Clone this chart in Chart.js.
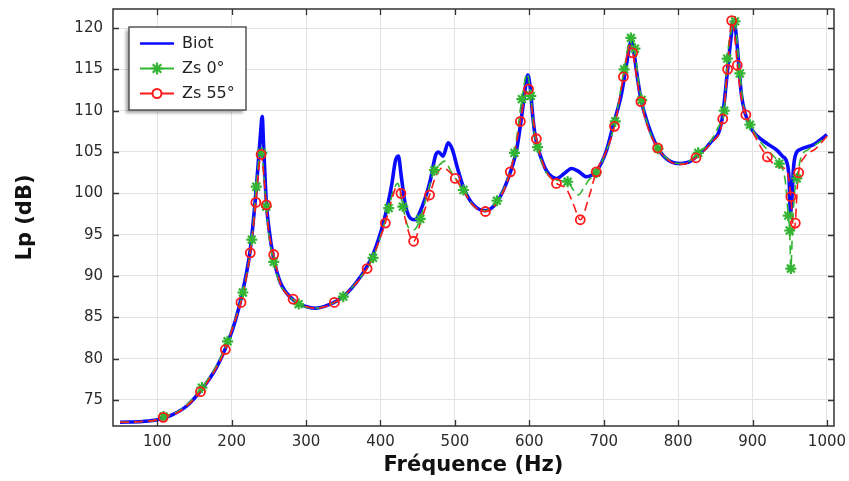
<!DOCTYPE html>
<html><head><meta charset="utf-8">
<script src="https://cdn.jsdelivr.net/npm/chart.js@4.4.1/dist/chart.umd.min.js"></script>
<style>html,body{margin:0;padding:0;background:#fff;}canvas{display:block;}</style>
</head><body>
<canvas id="c" width="849" height="481"></canvas>
<script>
// ---- data ----
const seriesNames = ['Biot', 'Zs 0°', 'Zs 55°'];
const xTitle = 'Fréquence (Hz)';
const yTitle = 'Lp (dB)';
const xTicks = [100, 200, 300, 400, 500, 600, 700, 800, 900, 1000];
const yTicks = [75, 80, 85, 90, 95, 100, 105, 110, 115, 120];

const biotFreq = [50,80,100,120,140,160,180,195,205,215,225,232,236,239,241,243,246.5,250,256,265,283,300,312,330,350,373,390,405,415,420,424,428,433,440,446,456,467,474,478,484,491,497,503,512,525,541,557,574,583,590,595,598,601,605,608,615,624,637,647,657,667,677,691,703,713,724,731,737,740,745,750,760,772,787,803,815,825,843,859,866,871,874.5,877,880,885,890,899,915,933,940,946,949,951,953,955,958,964,982,990,1000];
const biotLp = [72.3,72.4,72.6,73.2,74.3,76.3,79.0,82.0,84.6,88.2,93.2,99.5,104.0,107.5,109.3,105.5,99.0,95.8,92.3,89.3,87.1,86.3,86.1,86.5,87.5,89.9,92.6,96.8,101.0,103.9,104.5,102.0,98.8,97.0,96.8,98.4,101.6,104.6,105.0,104.5,106.1,105.2,103.2,100.6,98.6,97.9,99.0,102.4,105.3,109.5,113.0,114.3,113.0,109.0,106.9,104.5,102.6,101.8,102.4,103.0,102.6,102.0,102.8,105.0,108.3,112.1,115.8,118.4,117.4,114.2,111.4,108.2,105.6,104.0,103.6,103.8,104.5,106.1,108.9,114.5,118.8,120.9,120.0,117.2,112.0,109.7,107.7,106.3,105.2,104.5,103.8,102.0,97.6,99.5,103.0,104.7,105.3,105.9,106.4,107.1];

const zs0Freq = [50,80,100,108.5,130,160,180,194.5,205,215,227,233,237,240.5,243,246.5,250,256.5,265,275,290,312,330,350,370,390,400,411,418,423,430,438,445,453.5,463,472.5,480,486,495,511.5,525,541,556.5,570,580,590,597,602,606,611,620,636,651.5,660,666,672,680,690,703,715.5,727.5,736.5,742,746,751,760,773,790,803,815,827,843,855,862,866,871,876.5,880,883,889,896.5,910,925,936,944,948,950,951.5,954,957,959.5,965,975,990,1000];
const zs0Lp = [72.3,72.4,72.6,73.0,73.7,76.5,79.2,82.1,84.8,88.0,94.4,100.8,104.3,104.9,102.5,98.4,95.0,91.7,89.0,87.8,86.6,86.1,86.5,87.5,89.5,92.2,94.8,98.2,100.5,101.2,98.4,95.8,95.6,96.9,100.0,102.8,103.5,103.9,102.6,100.4,98.5,97.9,99.1,101.5,104.9,111.4,114.5,111.8,107.8,105.6,103.0,101.6,101.4,100.3,99.8,100.5,101.6,102.5,105.0,108.7,115.0,118.8,117.5,114.0,111.3,108.0,105.4,103.9,103.6,103.9,104.9,106.2,108.2,110.0,116.3,119.5,120.8,117.5,114.5,110.0,108.3,106.3,104.8,103.6,101.5,97.3,95.5,90.9,96.5,100.5,101.8,104.3,105.3,106.2,106.9];
const zs0MarkFreq = [108.5,160,194.5,215,227,233,240.5,246.5,256.5,290,350,390,411,430,453.5,472.5,511.5,556.5,580,590,602,611,651.5,690,715.5,727.5,736.5,742,751,773,827,862,866,876.5,883,896.5,936,948,950,951.5,959.5];
const zs0MarkLp = [73.0,76.5,82.1,88.0,94.4,100.8,104.9,98.4,91.7,86.6,87.5,92.2,98.2,98.4,96.9,102.8,100.4,99.1,104.9,111.4,111.8,105.6,101.4,102.5,108.7,115.0,118.8,117.5,111.3,105.4,104.9,110.0,116.3,120.8,114.5,108.3,103.6,97.3,95.5,90.9,101.8];

const zs55Freq = [50,80,100,108,130,158,180,191.5,203,212.5,225,232.5,236.5,239.5,243,246.5,250,256.5,265,282.5,300,315,338,360,382,395,406.5,415,422,427.5,433,444.5,455,466,475,484,490,500.5,512,525,541,557,574.5,588,594,599,603,609.5,620,636.5,650,660,668.5,680,690,703,714.5,726.5,735,739,745,750,760,772.5,790,805,824,843,860,866.5,872,876,879.5,885,891,905,920,935,946,951.5,955,957.5,960,962,970,985,1000];
const zs55Lp = [72.3,72.4,72.6,72.9,73.6,76.0,79.0,81.1,84.2,86.8,92.8,98.9,103.0,104.7,102.3,98.6,95.3,92.6,89.2,87.2,86.3,86.1,86.8,88.4,90.9,93.5,96.4,99.2,100.8,100.0,97.0,94.2,96.8,99.8,102.2,103.1,102.8,101.8,100.2,98.5,97.8,98.9,102.6,108.7,111.8,112.6,110.5,106.6,103.2,101.2,100.5,98.5,96.8,99.5,102.6,105.0,108.1,114.1,117.9,117.0,113.6,111.1,107.8,105.5,103.8,103.5,104.3,106.0,109.0,115.0,120.9,119.0,115.5,111.5,109.5,106.6,104.4,103.2,102.8,99.6,95.6,96.4,100.5,102.5,104.4,105.4,106.9];
const zs55MarkFreq = [108,158,191.5,212.5,225,232.5,239.5,246.5,256.5,282.5,338,382,406.5,427.5,444.5,466,500.5,541,574.5,588,599,609.5,636.5,668.5,690,714.5,726.5,739,750,772.5,824,860,866.5,872,879.5,891,920,951.5,957.5,962];
const zs55MarkLp = [72.9,76.0,81.1,86.8,92.8,98.9,104.7,98.6,92.6,87.2,86.8,90.9,96.4,100.0,94.2,99.8,101.8,97.8,102.6,108.7,112.6,106.6,101.2,96.8,102.6,108.1,114.1,117.0,111.1,105.5,104.3,109.0,115.0,120.9,115.5,109.5,104.4,99.6,96.4,102.5];

// ---- styles ----
const BLUE = '#0a0aff', GREEN = '#33b533', RED = '#ff1a1a';
const FONT = "'DejaVu Sans', sans-serif";
const zip = (xs, ys) => xs.map((x, i) => ({x: x, y: ys[i]}));

const framePlugin = {
  id: 'frame',
  afterDraw(chart) {
    const {ctx, chartArea: a, scales} = chart;
    ctx.save();
    ctx.strokeStyle = '#333';
    ctx.lineWidth = 1.5;
    ctx.strokeRect(a.left, a.top, a.right - a.left, a.bottom - a.top);
    ctx.lineWidth = 1.3;
    ctx.beginPath();
    xTicks.forEach(v => {
      const px = Math.round(scales.x.getPixelForValue(v)) + 0.5;
      ctx.moveTo(px, a.bottom); ctx.lineTo(px, a.bottom - 6);
      ctx.moveTo(px, a.top); ctx.lineTo(px, a.top + 6);
    });
    yTicks.forEach(v => {
      const py = Math.round(scales.y.getPixelForValue(v)) + 0.5;
      ctx.moveTo(a.left, py); ctx.lineTo(a.left + 6, py);
      ctx.moveTo(a.right, py); ctx.lineTo(a.right - 6, py);
    });
    ctx.stroke();

    // legend
    const bx = 129, by = 27, bw = 117, bh = 83;
    ctx.save();
    ctx.shadowColor = 'rgba(0,0,0,0.35)';
    ctx.shadowBlur = 3; ctx.shadowOffsetX = -3; ctx.shadowOffsetY = 3;
    ctx.fillStyle = '#fff';
    ctx.fillRect(bx, by, bw, bh);
    ctx.restore();
    ctx.strokeStyle = '#555'; ctx.lineWidth = 1.5;
    ctx.strokeRect(bx, by, bw, bh);
    const rows = [43.5, 68.5, 93.5];
    const cols = [BLUE, GREEN, RED];
    rows.forEach((ry, i) => {
      ctx.strokeStyle = cols[i];
      ctx.lineWidth = i === 0 ? 2.5 : 1.8;
      ctx.beginPath(); ctx.moveTo(140, ry); ctx.lineTo(174, ry); ctx.stroke();
      if (i === 1) {
        ctx.lineWidth = 2.2;
        ctx.beginPath();
        const r = 6;
        ctx.moveTo(157 - r, ry); ctx.lineTo(157 + r, ry);
        ctx.moveTo(157, ry - r); ctx.lineTo(157, ry + r);
        const d = r * Math.SQRT1_2;
        ctx.moveTo(157 - d, ry - d); ctx.lineTo(157 + d, ry + d);
        ctx.moveTo(157 - d, ry + d); ctx.lineTo(157 + d, ry - d);
        ctx.stroke();
      } else if (i === 2) {
        ctx.lineWidth = 2;
        ctx.fillStyle = '#fff';
        ctx.beginPath(); ctx.arc(157, ry, 4.5, 0, Math.PI * 2); ctx.fill(); ctx.stroke();
      }
      ctx.fillStyle = '#222';
      ctx.font = '16px ' + FONT;
      ctx.textBaseline = 'middle';
      ctx.textAlign = 'left';
      ctx.fillText(seriesNames[i], 182, ry);
    });
    ctx.restore();
  }
};

new Chart(document.getElementById('c'), {
  type: 'scatter',
  data: {
    datasets: [
      {label: seriesNames[0], data: zip(biotFreq, biotLp), showLine: true, borderColor: BLUE, borderWidth: 3.6,
       pointRadius: 0, cubicInterpolationMode: 'monotone', order: 5},
      {label: seriesNames[1], data: zip(zs0Freq, zs0Lp), showLine: true, borderColor: GREEN, borderWidth: 1.6,
       borderDash: [9, 5], pointRadius: 0, cubicInterpolationMode: 'monotone', order: 4},
      {label: seriesNames[2], data: zip(zs55Freq, zs55Lp), showLine: true, borderColor: RED, borderWidth: 1.6,
       borderDash: [9, 5], pointRadius: 0, cubicInterpolationMode: 'monotone', order: 3},
      {label: seriesNames[1] + ' markers', data: zip(zs0MarkFreq, zs0MarkLp), showLine: false, pointStyle: 'star',
       pointRadius: 5.5, borderColor: GREEN, borderWidth: 2.2, order: 2},
      {label: seriesNames[2] + ' markers', data: zip(zs55MarkFreq, zs55MarkLp), showLine: false, pointStyle: 'circle',
       pointRadius: 4.5, borderColor: RED, backgroundColor: 'rgba(0,0,0,0)', borderWidth: 1.8, order: 1}
    ]
  },
  options: {
    responsive: false,
    animation: false,
    layout: {padding: {left: 0, top: 9, right: 15, bottom: 0}},
    plugins: {legend: {display: false}, tooltip: {enabled: false}},
    scales: {
      x: {
        type: 'linear', min: 40.5, max: 1009.5,
        afterBuildTicks: s => { s.ticks = xTicks.map(v => ({value: v})); },
        afterFit: s => { s.height = 55; s.paddingLeft = 0; s.paddingRight = 0; },
        grid: {color: '#e3e3e3', lineWidth: 1, drawTicks: false},
        border: {display: false},
        ticks: {color: '#2a2a2a', font: {family: FONT, size: 15}, padding: 7, maxRotation: 0,
                callback: v => String(v)},
        title: {display: true, text: xTitle, color: '#111', font: {family: FONT, size: 21, weight: 'bold'},
                padding: {top: 0, bottom: 3}}
      },
      y: {
        type: 'linear', min: 71.85, max: 122.3,
        afterBuildTicks: s => { s.ticks = yTicks.map(v => ({value: v})); },
        afterFit: s => { s.width = 113; s.paddingTop = 0; s.paddingBottom = 0; },
        grid: {color: '#e3e3e3', lineWidth: 1, drawTicks: false},
        border: {display: false},
        ticks: {color: '#2a2a2a', font: {family: FONT, size: 15}, padding: 10, callback: v => String(v)},
        title: {display: true, text: yTitle, color: '#111', font: {family: FONT, size: 21, weight: 'bold'},
                padding: {top: 13, bottom: 0}}
      }
    }
  },
  plugins: [framePlugin]
});
</script>
</body></html>
